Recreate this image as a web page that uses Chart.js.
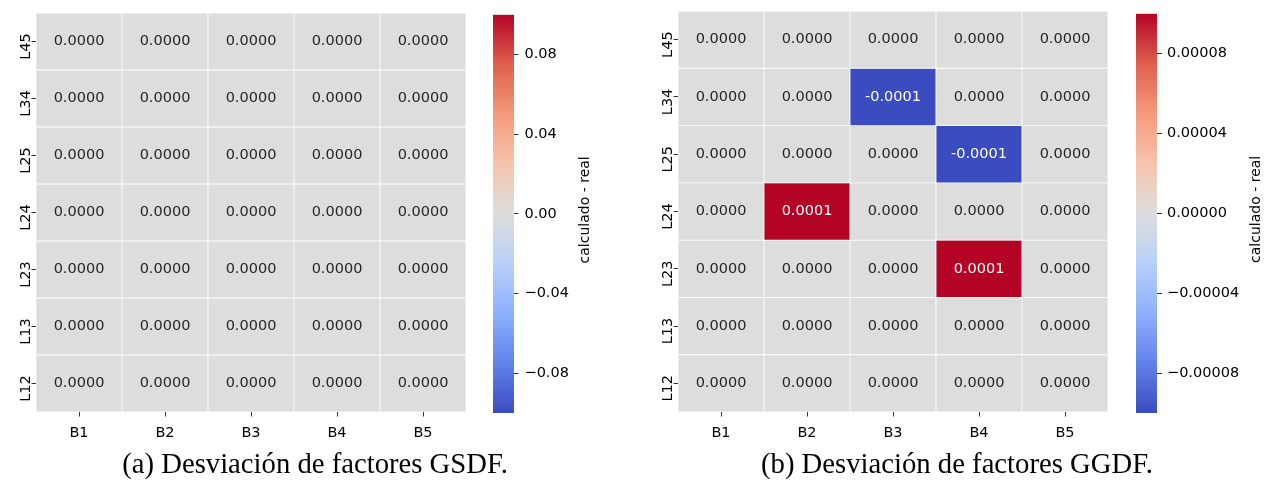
<!DOCTYPE html>
<html><head><meta charset="utf-8">
<script src="https://cdn.jsdelivr.net/npm/chart.js@4.4.0/dist/chart.umd.min.js"></script>
<style>
html,body{margin:0;padding:0;background:#fff;}
body{width:1269px;height:481px;overflow:hidden;position:relative;}
canvas{position:absolute;top:0;}
.cap{position:absolute;top:449px;font-family:"Liberation Serif","Times New Roman",serif;font-size:28.7px;line-height:28.7px;white-space:nowrap;color:#000;transform:translateX(-50%);}
</style></head><body>
<canvas id="hA" width="480" height="450" style="left:0px"></canvas>
<canvas id="cA" width="140" height="450" style="left:480px"></canvas>
<canvas id="hB" width="480" height="450" style="left:640px"></canvas>
<canvas id="cB" width="149" height="450" style="left:1120px"></canvas>
<div class="cap" style="left:315px">(a) Desviación de factores GSDF.</div>
<div class="cap" style="left:957px">(b) Desviación de factores GGDF.</div>
<script>
// ---- data ----
const columns = ['B1','B2','B3','B4','B5'];
const rows = ['L45','L34','L25','L24','L23','L13','L12']; // top -> bottom
const gsdfValues = [
  [0,0,0,0,0],
  [0,0,0,0,0],
  [0,0,0,0,0],
  [0,0,0,0,0],
  [0,0,0,0,0],
  [0,0,0,0,0],
  [0,0,0,0,0]
];
const ggdfValues = [
  [0,0,0,0,0],
  [0,0,-0.0001,0,0],
  [0,0,0,-0.0001,0],
  [0,0.0001,0,0,0],
  [0,0,0,0.0001,0],
  [0,0,0,0,0],
  [0,0,0,0,0]
];
const gsdfRange = [-0.1, 0.1];
const ggdfRange = [-0.0001, 0.0001];
const gsdfTicks = [-0.08,-0.04,0,0.04,0.08];
const ggdfTicks = [-0.00008,-0.00004,0,0.00004,0.00008];
const colorbarLabel = 'calculado - real';

// ---- coolwarm colormap ----
const cw = [[59,76,192],[98,130,234],[141,176,254],[184,208,249],[221,221,221],[245,196,173],[244,154,123],[222,96,77],[180,4,38]];
function coolwarm(t){
  t = Math.max(0, Math.min(1, t));
  const p = t*(cw.length-1), i = Math.min(Math.floor(p), cw.length-2), f = p-i;
  const c = cw[i].map((v,k)=>Math.round(v+(cw[i+1][k]-v)*f));
  return `rgb(${c[0]},${c[1]},${c[2]})`;
}
const FONT = 'DejaVu Sans';
Chart.defaults.font.family = FONT;
Chart.defaults.animation = false;

function heatmap(id, values, range, pad, yAxisW){
  const [vmin, vmax] = range;
  const n = rows.length;
  const datasets = rows.map((r,i)=>({
    label: r,
    data: columns.map(()=>[n-1-i, n-i]),
    backgroundColor: values[i].map(v=>coolwarm((v-vmin)/(vmax-vmin))),
    borderColor: '#ffffff',
    borderWidth: 0.75,
    borderSkipped: false,
    barPercentage: 1, categoryPercentage: 1, grouped: false,
    values: values[i]
  }));
  const annot = {
    id: 'annot',
    afterDatasetsDraw(chart){
      const ctx = chart.ctx;
      ctx.save();
      ctx.font = `14.5px "${FONT}"`;
      ctx.textAlign = 'center'; ctx.textBaseline = 'middle';
      chart.data.datasets.forEach((ds, di)=>{
        chart.getDatasetMeta(di).data.forEach((el, j)=>{
          const v = ds.values[j];
          const t = (v-vmin)/(vmax-vmin);
          ctx.fillStyle = Math.abs(t-0.5) > 0.3 ? '#ffffff' : '#262626';
          const c = el.getCenterPoint();
          ctx.fillText(v.toFixed(4), c.x, c.y);
        });
      });
      // y tick labels (rotated)
      const ys = chart.scales.y;
      ctx.fillStyle = '#000';
      ctx.font = `14.5px "${FONT}"`;
      rows.forEach((r,i)=>{
        const y = ys.getPixelForValue(n-1-i+0.5) + 5;
        ctx.save();
        ctx.translate(chart.chartArea.left - 10, y);
        ctx.rotate(-Math.PI/2);
        ctx.textAlign='center'; ctx.textBaseline='middle';
        ctx.fillText(r, 0, 0);
        ctx.restore();
      });
      ctx.restore();
    }
  };
  return new Chart(document.getElementById(id), {
    type: 'bar',
    data: { labels: columns, datasets },
    options: {
      responsive: false,
      layout: { padding: pad },
      plugins: { legend: {display:false}, tooltip: {enabled:false} },
      scales: {
        x: {
          grid: { offset: false, drawOnChartArea: false, drawTicks: true, tickLength: 4.5, color: '#000', lineWidth: 0.8 },
          border: { display: false },
          ticks: { color: '#000', font: { size: 14.5 }, padding: 8, maxRotation: 0 },
          afterFit(s){ s.height = 38; }
        },
        y: {
          type: 'linear', min: 0, max: n,
          grid: { drawOnChartArea: false, drawTicks: true, tickLength: 4.5, color: '#000', lineWidth: 0.8 },
          border: { display: false },
          ticks: { color: 'rgba(0,0,0,0)', callback: ()=>'' },
          afterBuildTicks(s){ s.ticks = rows.map((r,i)=>({value: n-1-i+0.5})); },
          afterFit(s){ s.width = yAxisW; }
        }
      }
    },
    plugins: [annot]
  });
}

function colorbar(id, range, ticks, decimals, pad, axisW, tickLen, tickPad, labelX){
  const [vmin, vmax] = range;
  const cbLabel = {
    id: 'cbLabel',
    afterDraw(chart){
      const ctx = chart.ctx;
      ctx.save();
      ctx.translate(labelX, (chart.chartArea.top+chart.chartArea.bottom)/2 - 4);
      ctx.rotate(-Math.PI/2);
      ctx.font = `14px "${FONT}"`;
      ctx.fillStyle = '#000';
      ctx.textAlign='center'; ctx.textBaseline='middle';
      ctx.fillText(colorbarLabel, 0, 0);
      ctx.restore();
    }
  };
  return new Chart(document.getElementById(id), {
    type: 'bar',
    data: { labels: ['cb'], datasets: [{
      data: [[vmin, vmax]],
      barPercentage: 1, categoryPercentage: 1, borderWidth: 0,
      backgroundColor(ctx){
        const ca = ctx.chart.chartArea;
        if (!ca) return 'rgb(221,221,221)';
        const g = ctx.chart.ctx.createLinearGradient(0, ca.bottom, 0, ca.top);
        for (let k=0;k<=64;k++) g.addColorStop(k/64, coolwarm(k/64));
        return g;
      }
    }]},
    options: {
      responsive: false,
      layout: { padding: pad },
      plugins: { legend: {display:false}, tooltip: {enabled:false} },
      scales: {
        x: { display: false },
        y: {
          position: 'right', min: vmin, max: vmax,
          grid: { drawOnChartArea: false, drawTicks: true, tickLength: tickLen, color: '#000', lineWidth: 0.8 },
          border: { display: false },
          ticks: { color: '#000', font: { size: 14.5 }, padding: tickPad,
            callback: v => (v<0?'\u2212':'') + Math.abs(v).toFixed(decimals) },
          afterBuildTicks(s){ s.ticks = ticks.map(v=>({value:v})); },
          afterFit(s){ s.width = axisW; }
        }
      }
    },
    plugins: [cbLabel]
  });
}

heatmap('hA', gsdfValues, gsdfRange, {top:13, right:14, left:0, bottom:0}, 36);
colorbar('cA', gsdfRange, gsdfTicks, 2, {top:11, bottom:37, left:13, right:0}, 106, 4.5, 6, 105.5);
heatmap('hB', ggdfValues, ggdfRange, {top:11, right:12, left:0, bottom:0}, 38);
colorbar('cB', ggdfRange, ggdfTicks, 5, {top:9, bottom:37, left:16, right:0}, 112, 5, 5, 136.5);
</script>
</body></html>
